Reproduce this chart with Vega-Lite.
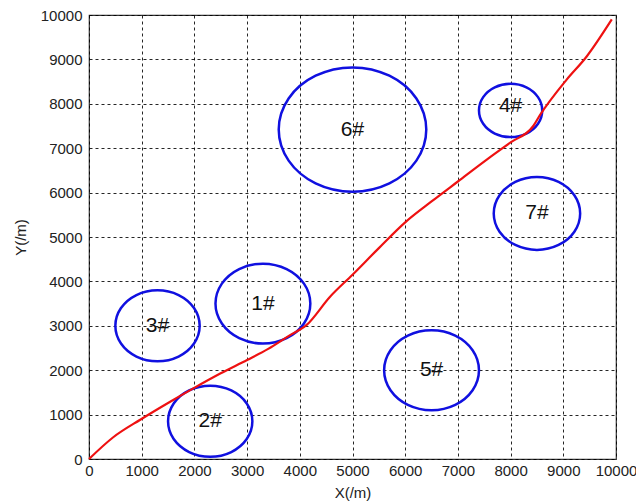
{
  "$schema": "https://vega.github.io/schema/vega-lite/v6.json",
  "autosize": "none",
  "width": 527,
  "height": 444,
  "padding": {"left": 89, "top": 15, "right": 20, "bottom": 45},
  "background": "white",
  "config": {
    "view": {"stroke": "#333333", "strokeWidth": 1.2},
    "font": "Liberation Sans"
  },
  "datasets": {
    "circles": [
      {"id": 1, "o": 0, "x": 4200, "y": 3500}, {"id": 1, "o": 1, "x": 4079, "y": 3950}, {"id": 1, "o": 2, "x": 3750, "y": 4279}, {"id": 1, "o": 3, "x": 3300, "y": 4400}, {"id": 1, "o": 4, "x": 2850, "y": 4279}, {"id": 1, "o": 5, "x": 2521, "y": 3950}, {"id": 1, "o": 6, "x": 2400, "y": 3500}, {"id": 1, "o": 7, "x": 2521, "y": 3050}, {"id": 1, "o": 8, "x": 2850, "y": 2721}, {"id": 1, "o": 9, "x": 3300, "y": 2600}, {"id": 1, "o": 10, "x": 3750, "y": 2721}, {"id": 1, "o": 11, "x": 4079, "y": 3050},
      {"id": 2, "o": 0, "x": 3100, "y": 850}, {"id": 2, "o": 1, "x": 2993, "y": 1250}, {"id": 2, "o": 2, "x": 2700, "y": 1543}, {"id": 2, "o": 3, "x": 2300, "y": 1650}, {"id": 2, "o": 4, "x": 1900, "y": 1543}, {"id": 2, "o": 5, "x": 1607, "y": 1250}, {"id": 2, "o": 6, "x": 1500, "y": 850}, {"id": 2, "o": 7, "x": 1607, "y": 450}, {"id": 2, "o": 8, "x": 1900, "y": 157}, {"id": 2, "o": 9, "x": 2300, "y": 50}, {"id": 2, "o": 10, "x": 2700, "y": 157}, {"id": 2, "o": 11, "x": 2993, "y": 450},
      {"id": 3, "o": 0, "x": 2100, "y": 3000}, {"id": 3, "o": 1, "x": 1993, "y": 3400}, {"id": 3, "o": 2, "x": 1700, "y": 3693}, {"id": 3, "o": 3, "x": 1300, "y": 3800}, {"id": 3, "o": 4, "x": 900, "y": 3693}, {"id": 3, "o": 5, "x": 607, "y": 3400}, {"id": 3, "o": 6, "x": 500, "y": 3000}, {"id": 3, "o": 7, "x": 607, "y": 2600}, {"id": 3, "o": 8, "x": 900, "y": 2307}, {"id": 3, "o": 9, "x": 1300, "y": 2200}, {"id": 3, "o": 10, "x": 1700, "y": 2307}, {"id": 3, "o": 11, "x": 1993, "y": 2600},
      {"id": 4, "o": 0, "x": 8600, "y": 7850}, {"id": 4, "o": 1, "x": 8520, "y": 8150}, {"id": 4, "o": 2, "x": 8300, "y": 8370}, {"id": 4, "o": 3, "x": 8000, "y": 8450}, {"id": 4, "o": 4, "x": 7700, "y": 8370}, {"id": 4, "o": 5, "x": 7480, "y": 8150}, {"id": 4, "o": 6, "x": 7400, "y": 7850}, {"id": 4, "o": 7, "x": 7480, "y": 7550}, {"id": 4, "o": 8, "x": 7700, "y": 7330}, {"id": 4, "o": 9, "x": 8000, "y": 7250}, {"id": 4, "o": 10, "x": 8300, "y": 7330}, {"id": 4, "o": 11, "x": 8520, "y": 7550},
      {"id": 5, "o": 0, "x": 7400, "y": 2000}, {"id": 5, "o": 1, "x": 7279, "y": 2450}, {"id": 5, "o": 2, "x": 6950, "y": 2779}, {"id": 5, "o": 3, "x": 6500, "y": 2900}, {"id": 5, "o": 4, "x": 6050, "y": 2779}, {"id": 5, "o": 5, "x": 5721, "y": 2450}, {"id": 5, "o": 6, "x": 5600, "y": 2000}, {"id": 5, "o": 7, "x": 5721, "y": 1550}, {"id": 5, "o": 8, "x": 6050, "y": 1221}, {"id": 5, "o": 9, "x": 6500, "y": 1100}, {"id": 5, "o": 10, "x": 6950, "y": 1221}, {"id": 5, "o": 11, "x": 7279, "y": 1550},
      {"id": 6, "o": 0, "x": 6400, "y": 7420}, {"id": 6, "o": 1, "x": 6212, "y": 8120}, {"id": 6, "o": 2, "x": 5700, "y": 8632}, {"id": 6, "o": 3, "x": 5000, "y": 8820}, {"id": 6, "o": 4, "x": 4300, "y": 8632}, {"id": 6, "o": 5, "x": 3788, "y": 8120}, {"id": 6, "o": 6, "x": 3600, "y": 7420}, {"id": 6, "o": 7, "x": 3788, "y": 6720}, {"id": 6, "o": 8, "x": 4300, "y": 6208}, {"id": 6, "o": 9, "x": 5000, "y": 6020}, {"id": 6, "o": 10, "x": 5700, "y": 6208}, {"id": 6, "o": 11, "x": 6212, "y": 6720},
      {"id": 7, "o": 0, "x": 9320, "y": 5530}, {"id": 7, "o": 1, "x": 9210, "y": 5940}, {"id": 7, "o": 2, "x": 8910, "y": 6240}, {"id": 7, "o": 3, "x": 8500, "y": 6350}, {"id": 7, "o": 4, "x": 8090, "y": 6240}, {"id": 7, "o": 5, "x": 7790, "y": 5940}, {"id": 7, "o": 6, "x": 7680, "y": 5530}, {"id": 7, "o": 7, "x": 7790, "y": 5120}, {"id": 7, "o": 8, "x": 8090, "y": 4820}, {"id": 7, "o": 9, "x": 8500, "y": 4710}, {"id": 7, "o": 10, "x": 8910, "y": 4820}, {"id": 7, "o": 11, "x": 9210, "y": 5120}
    ],
    "labels": [
      {"label": "1#", "x": 3300, "y": 3500},
      {"label": "2#", "x": 2300, "y": 850},
      {"label": "3#", "x": 1300, "y": 3000},
      {"label": "4#", "x": 8000, "y": 7950},
      {"label": "5#", "x": 6500, "y": 2000},
      {"label": "6#", "x": 5000, "y": 7420},
      {"label": "7#", "x": 8500, "y": 5530}
    ],
    "path": [
      {"o": 0, "x": 0, "y": 0},
      {"o": 1, "x": 460, "y": 490},
      {"o": 2, "x": 980, "y": 890},
      {"o": 3, "x": 1540, "y": 1290},
      {"o": 4, "x": 1980, "y": 1590},
      {"o": 5, "x": 2500, "y": 1930},
      {"o": 6, "x": 3000, "y": 2230},
      {"o": 7, "x": 3400, "y": 2480},
      {"o": 8, "x": 3800, "y": 2780},
      {"o": 9, "x": 4130, "y": 3020},
      {"o": 10, "x": 4570, "y": 3650},
      {"o": 11, "x": 5000, "y": 4150},
      {"o": 12, "x": 5500, "y": 4750},
      {"o": 13, "x": 6000, "y": 5330},
      {"o": 14, "x": 6500, "y": 5800},
      {"o": 15, "x": 7000, "y": 6250},
      {"o": 16, "x": 7580, "y": 6770},
      {"o": 17, "x": 8000, "y": 7130},
      {"o": 18, "x": 8430, "y": 7500},
      {"o": 19, "x": 8560, "y": 7750},
      {"o": 20, "x": 9060, "y": 8540},
      {"o": 21, "x": 9440, "y": 9060},
      {"o": 22, "x": 9920, "y": 9900}
    ]
  },
  "layer": [
    {
      "data": {"name": "circles"},
      "mark": {"type": "line", "interpolate": "cardinal-closed", "color": "#1010e0", "strokeWidth": 2.5},
      "encoding": {
        "x": {
          "field": "x", "type": "quantitative",
          "scale": {"domain": [0, 10000], "nice": false, "zero": false},
          "axis": {
            "values": [0, 500, 1000, 1500, 2000, 2500, 3000, 3500, 4000, 4500, 5000, 5500, 6000, 6500, 7000, 7500, 8000, 8500, 9000, 9500, 10000],
            "labelExpr": "datum.value % 1000 === 0 ? format(datum.value, 'd') : ''",
            "grid": true, "gridColor": "#000000", "gridDash": [3, 3], "gridOpacity": 0.85, "gridWidth": 1,
            "ticks": false, "domain": false,
            "labelFont": "Liberation Sans", "labelFontSize": 15, "labelColor": "#222222", "labelPadding": 4,
            "labelFlush": false,
            "title": "X(/m)", "titleFont": "Liberation Sans", "titleFontSize": 15, "titleFontWeight": "normal", "titleColor": "#222222", "titlePadding": 7
          }
        },
        "y": {
          "field": "y", "type": "quantitative",
          "scale": {"domain": [0, 10000], "nice": false, "zero": false},
          "axis": {
            "values": [0, 500, 1000, 1500, 2000, 2500, 3000, 3500, 4000, 4500, 5000, 5500, 6000, 6500, 7000, 7500, 8000, 8500, 9000, 9500, 10000],
            "labelExpr": "datum.value % 1000 === 0 ? format(datum.value, 'd') : ''",
            "grid": true, "gridColor": "#000000", "gridDash": [3, 3], "gridOpacity": 0.85, "gridWidth": 1,
            "ticks": false, "domain": false,
            "labelFont": "Liberation Sans", "labelFontSize": 15, "labelColor": "#222222", "labelPadding": 7,
            "labelFlush": false,
            "title": "Y(/m)", "titleFont": "Liberation Sans", "titleFontSize": 15, "titleFontWeight": "normal", "titleColor": "#222222", "titlePadding": 12
          }
        },
        "detail": {"field": "id", "type": "nominal"},
        "order": {"field": "o", "type": "quantitative"}
      }
    },
    {
      "data": {"name": "path"},
      "mark": {"type": "line", "interpolate": "monotone", "color": "#ee1111", "strokeWidth": 2.2},
      "encoding": {
        "x": {"field": "x", "type": "quantitative"},
        "y": {"field": "y", "type": "quantitative"},
        "order": {"field": "o", "type": "quantitative"}
      }
    },
    {
      "data": {"name": "labels"},
      "mark": {"type": "text", "font": "Liberation Sans", "fontSize": 21, "color": "#111111", "baseline": "middle", "align": "center"},
      "encoding": {
        "x": {"field": "x", "type": "quantitative"},
        "y": {"field": "y", "type": "quantitative"},
        "text": {"field": "label", "type": "nominal"}
      }
    }
  ]
}
